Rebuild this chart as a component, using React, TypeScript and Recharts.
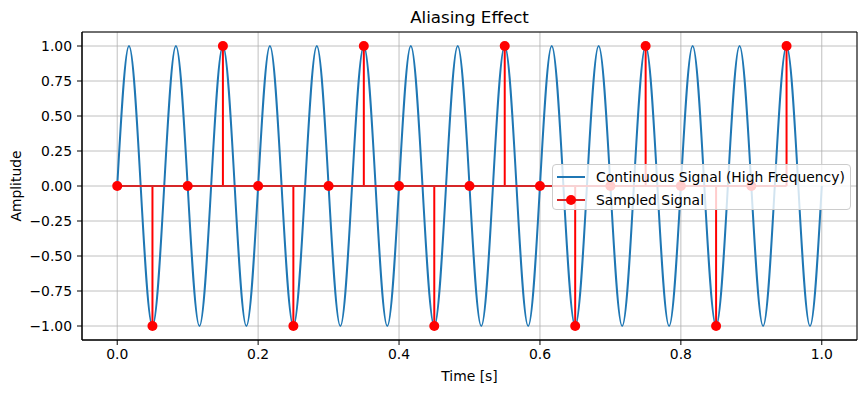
import React from "react";
import {
  ComposedChart,
  Line,
  Scatter,
  XAxis,
  YAxis,
  CartesianGrid,
  ReferenceLine,
  ReferenceArea,
  Legend,
} from "recharts";

// ticks
const xTicks = [0, 0.2, 0.4, 0.6, 0.8, 1.0];
const yTicks = [-1, -0.75, -0.5, -0.25, 0, 0.25, 0.5, 0.75, 1];

// continuous signal: zero crossings and extremes
const contTime = [
  0, 0.0167, 0.0333, 0.05, 0.0667, 0.0833, 0.1, 0.1167, 0.1333, 0.15,
  0.1667, 0.1833, 0.2, 0.2167, 0.2333, 0.25, 0.2667, 0.2833, 0.3, 0.3167,
  0.3333, 0.35, 0.3667, 0.3833, 0.4, 0.4167, 0.4333, 0.45, 0.4667, 0.4833,
  0.5, 0.5167, 0.5333, 0.55, 0.5667, 0.5833, 0.6, 0.6167, 0.6333, 0.65,
  0.6667, 0.6833, 0.7, 0.7167, 0.7333, 0.75, 0.7667, 0.7833, 0.8, 0.8167,
  0.8333, 0.85, 0.8667, 0.8833, 0.9, 0.9167, 0.9333, 0.95, 0.9667, 0.9833,
  1.0,
];
const contAmp = [
  0, 1, 0, -1, 0, 1, 0, -1, 0, 1,
  0, -1, 0, 1, 0, -1, 0, 1, 0, -1,
  0, 1, 0, -1, 0, 1, 0, -1, 0, 1,
  0, -1, 0, 1, 0, -1, 0, 1, 0, -1,
  0, 1, 0, -1, 0, 1, 0, -1, 0, 1,
  0, -1, 0, 1, 0, -1, 0, 1, 0, -1,
  0,
];

// sampled signal
const sampleTime = [
  0, 0.05, 0.1, 0.15, 0.2, 0.25, 0.3, 0.35, 0.4, 0.45,
  0.5, 0.55, 0.6, 0.65, 0.7, 0.75, 0.8, 0.85, 0.9, 0.95,
];
const sampleAmp = [
  0, -1, 0, 1, 0, -1, 0, 1, 0, -1,
  0, 1, 0, -1, 0, 1, 0, -1, 0, 1,
];

const contData = contTime.map((t, i) => ({ t, v: contAmp[i] }));
const sampleData = sampleTime.map((t, i) => ({ t, v: sampleAmp[i] }));

const FONT = "'DejaVu Sans', sans-serif";
const BLUE = "#1f77b4";
const RED = "#ff0000";
const BASE = "#d62728";

function fmtY(v: number) {
  return v.toFixed(2).replace("-", "\u2212");
}

function LegendBox() {
  const row: React.CSSProperties = {
    display: "flex",
    alignItems: "center",
    height: 23,
  };
  return (
    <div
      style={{
        boxSizing: "border-box",
        width: 299,
        height: 46,
        background: "rgba(255,255,255,0.8)",
        border: "1px solid #cccccc",
        borderRadius: 4,
        padding: "0 0 0 4px",
        fontFamily: FONT,
        fontSize: 13.9,
        color: "#000",
      }}
    >
      <div style={row}>
        <svg width={28} height={10}>
          <line x1={0} y1={5} x2={28} y2={5} stroke={BLUE} strokeWidth={2} />
        </svg>
        <span style={{ marginLeft: 11 }}>Continuous Signal (High Frequency)</span>
      </div>
      <div style={row}>
        <svg width={28} height={12}>
          <line x1={0} y1={6} x2={28} y2={6} stroke={BASE} strokeWidth={2} />
          <circle cx={14} cy={6} r={5} fill={RED} />
        </svg>
        <span style={{ marginLeft: 11 }}>Sampled Signal</span>
      </div>
    </div>
  );
}

export default function App() {
  return (
    <div style={{ position: "absolute", left: 0, top: 0, width: 866, height: 393, background: "#fff" }}>
      <div
        style={{
          position: "absolute",
          left: 82,
          width: 775,
          top: 7,
          textAlign: "center",
          fontFamily: FONT,
          fontSize: 16.7,
          color: "#000",
        }}
      >
        Aliasing Effect
      </div>
      <ComposedChart
        width={866}
        height={393}
        margin={{ top: 32, right: 9, bottom: 0, left: 0 }}
        style={{ fontFamily: FONT }}
      >
        <CartesianGrid stroke="#b0b0b0" strokeWidth={0.8} />
        <XAxis
          type="number"
          dataKey="t"
          domain={[-0.05, 1.05]}
          ticks={xTicks}
          allowDataOverflow
          height={53}
          tickFormatter={(v: number) => v.toFixed(1)}
          tick={{ fill: "#000", fontSize: 13.9 }}
          tickSize={5}
          tickMargin={4}
          tickLine={{ stroke: "#000" }}
          axisLine={{ stroke: "#000" }}
          label={{
            content: (props: any) => (
              <text
                x={props.viewBox.x + props.viewBox.width / 2}
                y={props.viewBox.y + 36}
                textAnchor="middle"
                dominantBaseline="central"
                fontSize={13.9}
                fill="#000"
              >
                Time [s]
              </text>
            ),
          }}
        />
        <YAxis
          type="number"
          domain={[-1.1, 1.1]}
          ticks={yTicks}
          allowDataOverflow
          width={82}
          tickFormatter={fmtY}
          tick={{ fill: "#000", fontSize: 13.9 }}
          tickSize={5}
          tickMargin={5}
          tickLine={{ stroke: "#000" }}
          axisLine={{ stroke: "#000" }}
          label={{
            content: (props: any) => {
              const cx = 16;
              const cy = props.viewBox.y + props.viewBox.height / 2;
              return (
                <text
                  x={cx}
                  y={cy}
                  transform={`rotate(-90, ${cx}, ${cy})`}
                  textAnchor="middle"
                  dominantBaseline="central"
                  fontSize={13.9}
                  fill="#000"
                >
                  Amplitude
                </text>
              );
            },
          }}
        />
        <Line
          data={contData}
          dataKey="v"
          type="natural"
          stroke={BLUE}
          strokeWidth={2}
          dot={false}
          activeDot={false}
          isAnimationActive={false}
        />
        {sampleData.map((d) => (
          <ReferenceLine
            key={d.t}
            segment={[
              { x: d.t, y: 0 },
              { x: d.t, y: d.v },
            ]}
            stroke={RED}
            strokeWidth={2}
          />
        ))}
        <ReferenceLine
          segment={[
            { x: sampleTime[0], y: 0 },
            { x: sampleTime[sampleTime.length - 1], y: 0 },
          ]}
          stroke={BASE}
          strokeWidth={2}
        />
        <Scatter
          data={sampleData}
          dataKey="v"
          fill={RED}
          isAnimationActive={false}
          shape={(p: any) => <circle cx={p.cx} cy={p.cy} r={5} fill={RED} />}
        />
        <ReferenceArea
          x1={-0.05}
          x2={1.05}
          y1={-1.1}
          y2={1.1}
          fill="none"
          stroke="#000"
          strokeWidth={1}
          ifOverflow="visible"
        />
        <Legend
          layout="horizontal"
          verticalAlign="middle"
          align="center"
          content={() => <LegendBox />}
          wrapperStyle={{ left: 552, top: 164, width: 299, height: 46 }}
        />
      </ComposedChart>
    </div>
  );
}
